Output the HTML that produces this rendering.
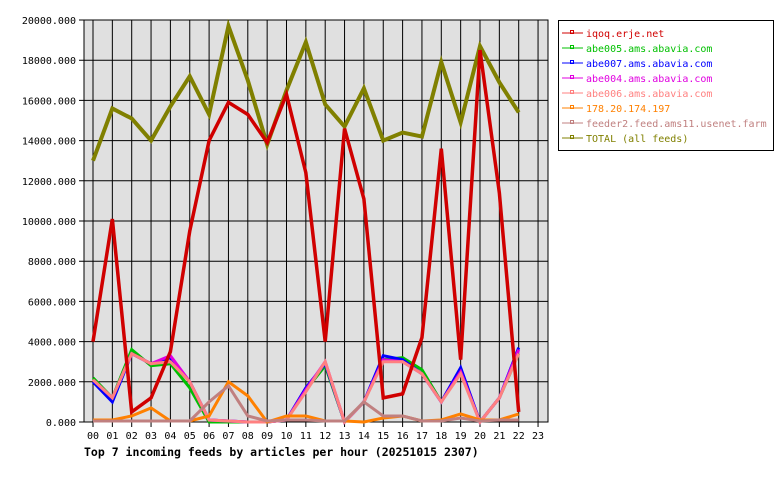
<!DOCTYPE html>
<html><head><meta charset="utf-8"><style>
body{margin:0;background:#fff;width:780px;height:480px;overflow:hidden}
svg{display:block}
text{font-family:"DejaVu Sans Mono","Liberation Mono",monospace;font-size:10px}
</style></head><body>
<svg id="s" width="780" height="480" xmlns="http://www.w3.org/2000/svg"></svg>
<script>
const s=document.getElementById('s');
let h='';
const L=84,R=548,T=20,B=422;
const X=i=>93+i*19.35, Y=v=>B-(B-T)*v/20;
h+=`<rect x="${L}" y="${T}" width="${R-L}" height="${B-T}" fill="#e0e0e0" stroke="#000"/>`;
for(let i=0;i<24;i++){h+=`<line x1="${X(i)}" y1="${T}" x2="${X(i)}" y2="${B+5}" stroke="#000"/>`;
h+=`<text x="${X(i)}" y="${B+17}" text-anchor="middle">${String(i).padStart(2,'0')}</text>`;}
for(let k=0;k<=10;k++){const y=Y(k*2);h+=`<line x1="${L-5}" y1="${y}" x2="${R}" y2="${y}" stroke="#000"/>`;
h+=`<text x="${L-8}" y="${y+4}" text-anchor="end">${k*2000}.000</text>`;}
const S=[
["#808000",4,[13.0,15.6,15.1,14.0,15.7,17.2,15.3,19.7,17.0,13.8,16.5,18.9,15.8,14.7,16.6,14.0,14.4,14.2,17.9,14.9,18.7,16.9,15.4]],
["#00c000",3,[2.2,1.2,3.6,2.8,2.9,1.7,0,0,0,0,0.1,1.6,2.8,0,1.0,3.1,3.2,2.6,1.0,2.6,0,1.2,3.4]],
["#0000ff",3,[2.0,1.0,3.4,2.9,3.2,2.0,0.1,0.05,0,0,0.1,1.7,2.9,0,1.0,3.3,3.1,2.4,1.0,2.7,0,1.2,3.7]],
["#e000e0",3,[2.1,1.2,3.4,2.9,3.3,2.0,0.1,0.05,0,0,0.1,1.6,3.0,0,1.0,3.1,3.0,2.4,1.0,2.5,0,1.2,3.6]],
["#ff8080",3,[2.1,1.2,3.4,2.9,3.0,2.0,0.1,0.05,0,0,0.1,1.5,3.0,0,1.0,3.0,3.0,2.4,1.0,2.4,0,1.2,3.4]],
["#ff8000",3,[0.1,0.1,0.3,0.7,0.05,0.05,0.3,2.0,1.3,0,0.3,0.3,0.05,0.05,0,0.2,0.3,0.05,0.1,0.4,0.1,0.1,0.4]],
["#c08080",3,[0.05,0.05,0.05,0.05,0.05,0.05,1.0,1.8,0.3,0.05,0.1,0.1,0.05,0.05,1.0,0.3,0.3,0.05,0.05,0.2,0.05,0.1,0.1]],
["#d00000",3.5,[4.0,10.1,0.5,1.2,3.5,9.5,14.0,15.9,15.3,13.9,16.3,12.4,4.0,14.6,11.1,1.2,1.4,4.2,13.6,3.1,18.5,11.4,0.5]]
];
for(const [c,w,d] of S){h+=`<polyline fill="none" stroke="${c}" stroke-width="${w}" points="${d.map((v,i)=>X(i)+','+Y(v)).join(' ')}"/>`;}
h+=`<text x="84" y="456" style="font-weight:bold;font-size:11.5px">Top 7 incoming feeds by articles per hour (20251015 2307)</text>`;
h+=`<rect x="558.5" y="20.5" width="215" height="130" fill="#fff" stroke="#000"/>`;
const lg=[["iqoq.erje.net","#d00000"],["abe005.ams.abavia.com","#00c000"],["abe007.ams.abavia.com","#0000ff"],["abe004.ams.abavia.com","#e000e0"],["abe006.ams.abavia.com","#ff8080"],["178.20.174.197","#ff8000"],["feeder2.feed.ams11.usenet.farm","#c08080"],["TOTAL (all feeds)","#808000"]];
lg.forEach(([t,c],i)=>{const y=33+i*15;
h+=`<line x1="562" y1="${y}" x2="583" y2="${y}" stroke="${c}"/><rect x="570.5" y="${y-2.5}" width="3" height="3" fill="none" stroke="${c}"/>`;
h+=`<text x="586" y="${y+4}" fill="${c}">${t}</text>`;});
s.innerHTML=h;
</script>
</body></html>
